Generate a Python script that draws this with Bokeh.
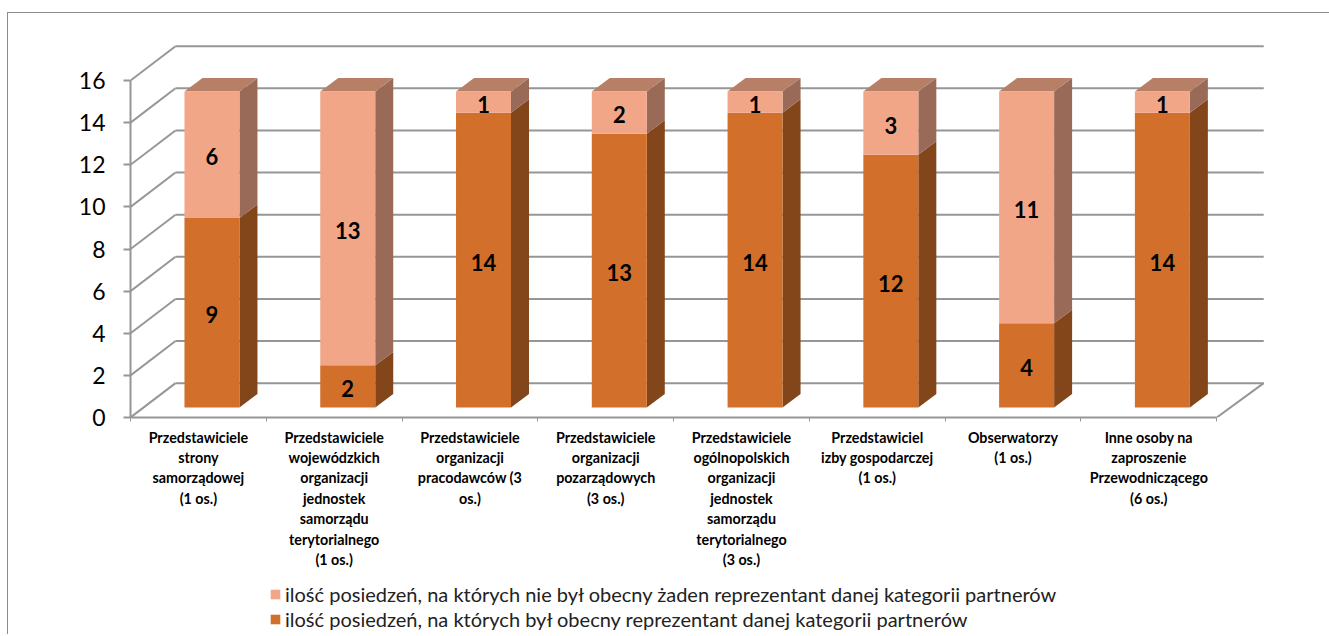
from bokeh.plotting import figure
from bokeh.layouts import column
from bokeh.models import Range1d, FixedTicker, Legend, LegendItem, ColumnDataSource
from bokeh.core.properties import value
from bokeh.embed import file_html
from bokeh.resources import INLINE

categories = [
    "Przedstawiciele\nstrony\nsamorządowej\n(1 os.)",
    "Przedstawiciele\nwojewódzkich\norganizacji\njednostek\nsamorządu\nterytorialnego\n(1 os.)",
    "Przedstawiciele\norganizacji\npracodawców (3\nos.)",
    "Przedstawiciele\norganizacji\npozarządowych\n(3 os.)",
    "Przedstawiciele\nogólnopolskich\norganizacji\njednostek\nsamorządu\nterytorialnego\n(3 os.)",
    "Przedstawiciel\nizby gospodarczej\n(1 os.)",
    "Obserwatorzy\n(1 os.)",
    "Inne osoby na\nzaproszenie\nPrzewodniczącego\n(6 os.)",
]
present = [9, 2, 14, 13, 14, 12, 4, 14]
absent = [6, 13, 1, 2, 1, 3, 11, 1]
series_present = "ilość posiedzeń, na których był obecny reprezentant danej kategorii partnerów"
series_absent = "ilość posiedzeń, na których nie był obecny żaden reprezentant danej kategorii partnerów"
y_ticks = list(range(0, 17, 2))

DARK, DARK_SIDE = "#D2702B", "#83461A"
LIGHT, LIGHT_SIDE, LIGHT_TOP = "#F1A688", "#9A6A58", "#B77F66"
GRID = "#969696"
BORDER = "1.5px solid #8c8c8c"
FONT = "Lato"

# oblique projection, in data units
WALL_X, WALL_Y = 0.3315, 1.63
BAR_DX, BAR_DY = 0.1326, 0.64
BAR_W, BAR_BASE, BAR_SHIFT = 0.405, 0.475, 0.1
XMAX_FLOOR = 8.0
n = len(categories)

p = figure(output_backend="svg", toolbar_location=None, width=1322, height=563,
           x_range=Range1d(0, 8.47), y_range=Range1d(0, 17.9),
           min_border_left=122, min_border_right=50, min_border_top=27, min_border_bottom=159,
           outline_line_color=None, background_fill_color=None,
           margin=(12, 0, 0, 7))
p.styles = {"border-top": BORDER, "border-left": BORDER}
p.grid.visible = False

# y axis
ya = p.yaxis[0]
ya.ticker = FixedTicker(ticks=y_ticks)
ya.bounds = (0, 16)
ya.axis_line_color = GRID
ya.axis_line_width = 2
ya.major_tick_line_color = GRID
ya.major_tick_line_width = 2
ya.major_tick_out = 7
ya.major_tick_in = 0
ya.minor_tick_line_color = None
ya.major_label_standoff = 18
ya.major_label_text_font = FONT
ya.major_label_text_font_size = "23px"
ya.major_label_text_color = "#000000"

# x axis
xa = p.xaxis[0]
centres = [i + 0.5 for i in range(n)]
xa.ticker = FixedTicker(ticks=centres, minor_ticks=list(range(n + 1)))
xa.major_label_overrides = {c: t for c, t in zip(centres, categories)}
xa.bounds = (0, XMAX_FLOOR)
xa.axis_line_color = GRID
xa.axis_line_width = 2
xa.major_tick_line_color = None
xa.minor_tick_line_color = GRID
xa.minor_tick_out = 4
xa.minor_tick_in = 0
xa.minor_tick_line_width = 1
xa.major_label_standoff = 5
xa.major_label_text_font = FONT
xa.major_label_text_font_style = "bold"
xa.major_label_text_font_size = "14.3px"
xa.major_label_text_color = "#000000"

# walls
p.segment(x0=[0] * len(y_ticks), y0=y_ticks, x1=[WALL_X] * len(y_ticks), y1=[t + WALL_Y for t in y_ticks],
          line_color=GRID, line_width=2)
p.segment(x0=[WALL_X] * len(y_ticks), y0=[t + WALL_Y for t in y_ticks],
          x1=[XMAX_FLOOR + WALL_X + 0.015] * len(y_ticks), y1=[t + WALL_Y for t in y_ticks],
          line_color=GRID, line_width=2)
p.segment(x0=[XMAX_FLOOR], y0=[0], x1=[XMAX_FLOOR + WALL_X + 0.015], y1=[WALL_Y], line_color=GRID, line_width=2)

# bars
xc = [i + 0.5 + BAR_SHIFT for i in range(n)]
left = [c - BAR_W / 2 for c in xc]
right = [c + BAR_W / 2 for c in xc]
mid = [b + BAR_BASE for b in present]
top = [a + b + BAR_BASE for a, b in zip(absent, present)]
base = [BAR_BASE] * n


def side(b0, b1):
    xs = [[r, r + BAR_DX, r + BAR_DX, r] for r in right]
    ys = [[u, u + BAR_DY, v + BAR_DY, v] for u, v in zip(b0, b1)]
    return xs, ys


xs, ys = side(base, mid)
p.patches(xs, ys, fill_color=DARK_SIDE, line_color=None)
xs, ys = side(mid, top)
p.patches(xs, ys, fill_color=LIGHT_SIDE, line_color=None)
p.patches([[l, l + BAR_DX, r + BAR_DX, r] for l, r in zip(left, right)],
          [[t, t + BAR_DY, t + BAR_DY, t] for t in top], fill_color=LIGHT_TOP, line_color=None)
p.vbar(x=xc, width=BAR_W, bottom=base, top=mid, fill_color=DARK, line_color=None)
p.vbar(x=xc, width=BAR_W, bottom=mid, top=top, fill_color=LIGHT, line_color=None)

# data labels
lab = ColumnDataSource(dict(
    x=xc + xc,
    y=[(u + v) / 2 for u, v in zip(base, mid)] + [(u + v) / 2 for u, v in zip(mid, top)],
    t=[str(v) for v in present] + [str(v) for v in absent],
))
p.text("x", "y", text="t", source=lab, text_align="center", text_baseline="middle", y_offset=2,
       text_font=value(FONT), text_font_style="bold", text_font_size="22px", text_color="#000000")

# legend, on a strip of its own under the chart
strip = figure(output_backend="svg", toolbar_location=None, width=1322, height=59,
               x_range=Range1d(0, 1), y_range=Range1d(0, 1), x_axis_location=None, y_axis_location=None,
               min_border=0, outline_line_color=None, background_fill_color=None, margin=(0, 0, 0, 7))
strip.styles = {"border-left": BORDER}
strip.grid.visible = False
key_absent = strip.vbar(x=[0.5], width=0, bottom=[0], top=[0], fill_color=LIGHT, line_color=None)
key_present = strip.vbar(x=[0.5], width=0, bottom=[0], top=[0], fill_color=DARK, line_color=None)
strip.add_layout(Legend(items=[LegendItem(label=series_absent, renderers=[key_absent]),
                               LegendItem(label=series_present, renderers=[key_present])],
                        orientation="vertical", location=(139, 3), border_line_color=None,
                        background_fill_color=None, glyph_width=12, glyph_height=12,
                        label_text_font=FONT, label_text_font_size="20px", label_text_color="#222222",
                        spacing=1, margin=0, padding=0, label_standoff=4))

page = column(p, strip, spacing=0)
open("out.html", "w").write(file_html(page, INLINE))
